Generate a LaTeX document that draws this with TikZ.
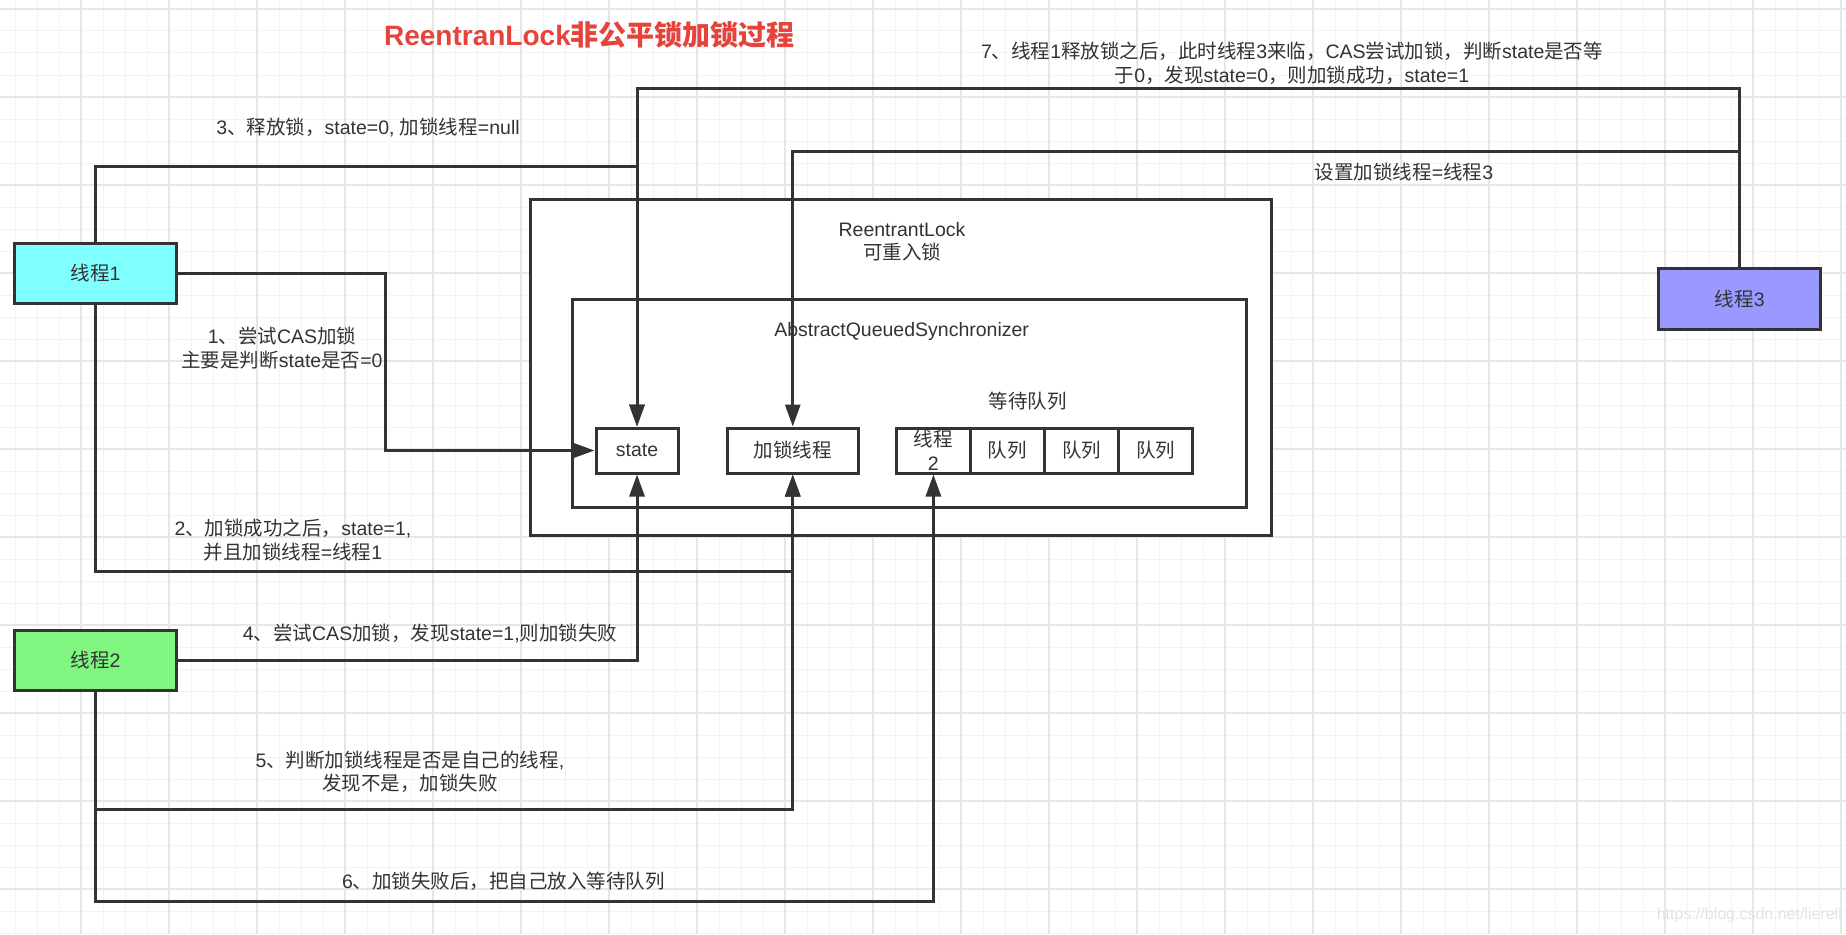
\documentclass[tikz,border=0pt]{standalone}
\usepackage{fontspec}
\setmainfont{Liberation Sans}
\newfontfamily\cjk{Noto Sans CJK SC}
\newcommand\zh[1]{{\cjk #1}}
\usetikzlibrary{arrows.meta}
\definecolor{ln}{HTML}{333333}
\definecolor{titlered}{HTML}{E5433C}
\definecolor{gridminor}{RGB}{243,243,243}
\definecolor{gridmajor}{RGB}{230,230,230}
\definecolor{fillcyan}{RGB}{128,255,255}
\definecolor{fillgreen}{RGB}{128,245,128}
\definecolor{fillpurple}{RGB}{153,153,255}
\begin{document}
\begin{tikzpicture}[x=1pt,y=-1pt,
  box/.style={draw=ln, line width=3pt, fill=white, inner sep=0pt, text=ln,
    align=center, font=\fontsize{19.5}{23.5}\selectfont},
  conn/.style={draw=ln, line width=3pt, -{Triangle[length=22pt,width=15pt]}},
  lbl/.style={text=ln, align=center, font=\fontsize{19.5}{23.5}\selectfont, inner sep=0pt},
  gmin/.style={draw=gridminor, line width=1pt},
  gmaj/.style={draw=gridmajor, line width=1.5pt},
]
\useasboundingbox (0,0) rectangle (1846,934);
\fill[white] (0,0) rectangle (1846,934);
% grid
\foreach \xx in {15,37,...,1846} \draw[gmin] (\xx,0) -- (\xx,934);
\foreach \yy in {9,31,...,934} \draw[gmin] (0,\yy) -- (1846,\yy);
\foreach \xx in {81,169,...,1846} \draw[gmaj] (\xx,0) -- (\xx,934);
\foreach \yy in {9,97,...,934} \draw[gmaj] (0,\yy) -- (1846,\yy);

% title
\node[text=titlered, font=\fontsize{28}{32}\selectfont\bfseries] (title) at (589.5,35) {ReentranLock\zh{非公平锁加锁过程}};

% containers
\node[box, minimum width=741pt, minimum height=336pt] (rl) at (900.5,367) {};
\node[lbl] (rlt) at (902,241.5) {ReentrantLock\\\zh{可重入锁}};
\node[box, minimum width=673.5pt, minimum height=208pt] (aqs) at (909.25,403.3) {};
\node[lbl] (aqst) at (901.6,331.7) {AbstractQueuedSynchronizer};
\node[lbl] (waitq) at (1027.8,401) {\zh{等待队列}};

% inner boxes
\node[box, minimum width=82pt, minimum height=45pt] (state) at (637,450.5) {state};
\node[box, minimum width=131.5pt, minimum height=45pt] (lockthr) at (792.75,450.5) {\zh{加锁线程}};
\node[box, minimum width=73.5pt, minimum height=45pt] (q0) at (933.4,450.5) {\zh{线程}\\2};
\node[box, minimum width=74pt, minimum height=45pt] (q1) at (1007,450.5) {\zh{队列}};
\node[box, minimum width=75pt, minimum height=45pt] (q2) at (1081.5,450.5) {\zh{队列}};
\node[box, minimum width=73.5pt, minimum height=45pt] (q3) at (1155.7,450.5) {\zh{队列}};

% threads
\node[box, fill=fillcyan, minimum width=162pt, minimum height=60pt] (t1) at (95.5,273) {\zh{线程}1};
\node[box, fill=fillgreen, minimum width=162pt, minimum height=60pt] (t2) at (95.5,660) {\zh{线程}2};
\node[box, fill=fillpurple, minimum width=162pt, minimum height=61pt] (t3) at (1739.7,299) {\zh{线程}3};

% labels
\node[lbl] (l1) at (282,348) {1\zh{、尝试}CAS\zh{加锁}\\\zh{主要是判断}state\zh{是否}=0};
\node[lbl] (l2) at (293,540) {2\zh{、加锁成功之后，}state=1,\\\zh{并且加锁线程}=\zh{线程}1};
\node[lbl] (l3) at (368,127.7) {3\zh{、释放锁，}state=0, \zh{加锁线程}=null};
\node[lbl] (l4) at (430,633.3) {4\zh{、尝试}CAS\zh{加锁，发现}state=1,\zh{则加锁失败}};
\node[lbl] (l5) at (410,771.7) {5\zh{、判断加锁线程是否是自己的线程},\\\zh{发现不是，加锁失败}};
\node[lbl] (l6) at (503.5,881.7) {6\zh{、加锁失败后，把自己放入等待队列}};
\node[lbl] (l7) at (1292,63.3) {7\zh{、线程}1\zh{释放锁之后，此时线程}3\zh{来临，}CAS\zh{尝试加锁，判断}state\zh{是否等}\\\zh{于}0\zh{，发现}state=0\zh{，则加锁成功，}state=1};
\node[lbl] (l8) at (1404,171.7) {\zh{设置加锁线程}=\zh{线程}3};

% watermark
\node[text=gray!22, font=\fontsize{16}{18}\selectfont, anchor=east, inner sep=0pt] (wm) at (1842,915) {https://blog.csdn.net/lierell};

% elbow helpers
\coordinate (e1) at (385.6,0);
\coordinate (e2) at (0,571.7);
\coordinate (e3) at (0,166.7);
\coordinate (e5) at (0,809.3);
\coordinate (e6) at (0,901.7);
\coordinate (e7) at (0,88);
\coordinate (e8) at (0,151);

% connectors
\draw[conn] (t1.east) -| (e1 |- state.west) -- (state.west);
\draw[conn] (t1.south) |- (lockthr.south |- e2) -- (lockthr.south);
\draw[conn] (t1.north) |- (state.north |- e3) -- (state.north);
\draw[conn] (t3.north) |- (state.north |- e7) -- (state.north);
\draw[conn] (t3.north) |- (lockthr.north |- e8) -- (lockthr.north);
\draw[conn] (t2.east) -| (state.south);
\draw[conn] (t2.south) |- (lockthr.south |- e5) -- (lockthr.south);
\draw[conn] (t2.south) |- (q0.south |- e6) -- (q0.south);
\end{tikzpicture}
\end{document}
